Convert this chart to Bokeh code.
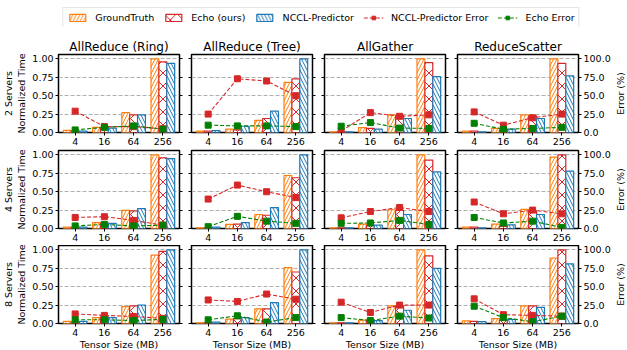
import math
from bokeh.plotting import figure
from bokeh.models import (Range1d, FactorRange, LinearAxis, FixedTicker, ColumnDataSource,
                          Legend, LegendItem, PrintfTickFormatter)
from bokeh.core.properties import value
from bokeh.layouts import gridplot, column
from bokeh.transform import dodge
from bokeh.embed import file_html
from bokeh.resources import INLINE

# ---------------- data ----------------
ops = ["AllReduce (Ring)", "AllReduce (Tree)", "AllGather", "ReduceScatter"]
servers = ["2 Servers", "4 Servers", "8 Servers"]
sizes = ["4", "16", "64", "256"]
time_ticks = [0.0, 0.25, 0.5, 0.75, 1.0]
err_ticks = [0, 25, 50, 75, 100]
err_label = "Error (%)"
x_label = "Tensor Size (MB)"

# 2 servers: one list per op (Ring, Tree, AllGather, ReduceScatter)
gt_2 = [[0.03, 0.07, 0.27, 1.00], [0.02, 0.045, 0.165, 0.68], [0.01, 0.065, 0.24, 1.00], [0.02, 0.055, 0.24, 1.00]]
echo_2 = [[0.02, 0.06, 0.24, 0.96], [0.02, 0.035, 0.19, 0.73], [0.01, 0.055, 0.23, 0.95], [0.02, 0.03, 0.225, 0.94]]
nccl_2 = [[0.02, 0.06, 0.24, 0.94], [0.025, 0.085, 0.29, 1.00], [0.01, 0.045, 0.19, 0.76], [0.01, 0.045, 0.19, 0.77]]
nccl_err_2 = [[29, 8, 8, 5], [25, 73, 70, 50], [2, 27, 22, 24], [28, 10, 20, 25]]
echo_err_2 = [[3.5, 7, 9, 4.5], [10, 9, 9, 8], [8.5, 13.5, 6, 5.5], [12.5, 4.5, 5.5, 7]]

# 4 servers
gt_4 = [[0.02, 0.08, 0.245, 1.00], [0.01, 0.055, 0.19, 0.72], [0.01, 0.06, 0.255, 1.00], [0.02, 0.06, 0.26, 0.97]]
echo_4 = [[0.015, 0.075, 0.24, 0.96], [0.01, 0.06, 0.18, 0.69], [0.01, 0.04, 0.245, 0.93], [0.02, 0.03, 0.24, 1.00]]
nccl_4 = [[0.02, 0.07, 0.27, 0.95], [0.02, 0.08, 0.285, 1.00], [0.01, 0.045, 0.19, 0.77], [0.01, 0.05, 0.19, 0.78]]
nccl_err_4 = [[15, 16, 11, 4.5], [40, 59, 50, 42], [14.5, 23, 28.5, 23], [36, 20, 25, 20]]
echo_err_4 = [[3.5, 5.5, 3.5, 4.5], [2.5, 16.5, 10, 7], [7, 7.5, 11, 5.5], [15, 7.5, 10, 1.5]]

# 8 servers
gt_8 = [[0.03, 0.08, 0.23, 0.93], [0.01, 0.06, 0.20, 0.76], [0.01, 0.045, 0.24, 1.00], [0.035, 0.065, 0.24, 0.89]]
echo_8 = [[0.02, 0.09, 0.24, 0.98], [0.01, 0.065, 0.20, 0.70], [0.01, 0.045, 0.24, 0.92], [0.03, 0.045, 0.24, 1.00]]
nccl_8 = [[0.03, 0.08, 0.25, 1.00], [0.02, 0.08, 0.285, 1.00], [0.01, 0.04, 0.18, 0.75], [0.025, 0.055, 0.22, 0.81]]
nccl_err_8 = [[13, 11, 9.5, 7], [32, 30, 40, 33], [29, 15, 25, 25], [33.5, 12, 11, 10]]
echo_err_8 = [[5, 5, 4, 5.5], [5, 10.5, 2, 8], [8, 4, 10, 7.5], [23.5, 8, 2.5, 10]]

rows = [
    (gt_2, echo_2, nccl_2, nccl_err_2, echo_err_2),
    (gt_4, echo_4, nccl_4, nccl_err_4, echo_err_4),
    (gt_8, echo_8, nccl_8, nccl_err_8, echo_err_8),
]

# ---------------- style ----------------
FONT = "DejaVu Sans"
FS = "9.5px"
ORANGE = "#ff7f0e"
RED = "#d62728"
BLUE = "#1f77b4"
GREEN = "#008000"
BW = 0.27
FW, FH = 121, 78
TOPS = [27, 1, 0]
BOTS = [17, 17, 27]

bar_styles = [
    ("GroundTruth", ORANGE, "/", -BW, 7),
    ("Echo (ours)", RED, "x", 0.0, 13),
    ("NCCL-Predictor", BLUE, "\\", BW, 7),
]


def style_axis(ax, ticks, show_labels):
    ax.axis_line_color = None
    ax.major_tick_out = 3
    ax.major_tick_in = 0
    ax.minor_tick_line_color = None
    ax.major_tick_line_color = "black"
    ax.major_tick_line_width = 1
    ax.major_label_text_font = FONT
    ax.major_label_text_color = "black"
    ax.major_label_text_font_size = FS
    ax.axis_label_text_font = FONT
    ax.axis_label_text_font_size = FS
    ax.axis_label_text_font_style = "normal"
    ax.axis_label_text_color = "black"
    if show_labels:
        ax.major_label_standoff = 2
    else:
        ax.major_label_standoff = 0
        ax.major_label_overrides = {t: "" for t in ticks}


grid_rows = []
for r in range(3):
    gt, ec, nc, nerr, eerr = rows[r]
    fig_row = []
    for c in range(4):
        p = figure(
            x_range=FactorRange(factors=sizes, range_padding=0.07, range_padding_units="absolute"),
            y_range=Range1d(0, 1.06),
            frame_width=FW, frame_height=FH,
            output_backend="svg", toolbar_location=None,
            title=ops[c] if r == 0 else None,
            min_border_left=56 if c == 0 else 6,
            min_border_right=36 if c == 3 else 6,
            min_border_top=TOPS[r],
            min_border_bottom=BOTS[r],
        )
        p.extra_y_ranges = {"err": Range1d(0, 106)}
        p.outline_line_color = "black"
        p.outline_line_width = 1.5
        p.background_fill_color = "white"
        p.border_fill_color = "white"
        if r == 0:
            p.title.text_font = FONT
            p.title.text_font_size = "12px"
            p.title.text_font_style = "normal"
            p.title.text_color = "black"
            p.title.align = "center"
            p.title.standoff = 2

        p.xgrid.visible = False
        p.ygrid.ticker = FixedTicker(ticks=time_ticks)
        p.ygrid.grid_line_color = "#b0b0b0"
        p.ygrid.grid_line_dash = "4 2"
        p.ygrid.grid_line_width = 1

        src = ColumnDataSource(dict(size=sizes, gt=gt[c], echo=ec[c], nccl=nc[c],
                                    nerr=nerr[c], eerr=eerr[c]))
        for (label, col, hatch, off, hs), key in zip(bar_styles, ["gt", "echo", "nccl"]):
            p.vbar(x=dodge("size", off, range=p.x_range), top=key, width=BW, source=src,
                   fill_color="white", line_color=col, line_width=1.2,
                   hatch_pattern=hatch, hatch_color=col, hatch_scale=hs, hatch_weight=1)

        p.line(x="size", y="nerr", source=src, y_range_name="err", line_color=RED,
               line_dash="4 2", line_width=1.1)
        p.scatter(x="size", y="nerr", source=src, y_range_name="err", marker="square",
                  size=6, fill_color=RED, line_color=RED)
        p.line(x="size", y="eerr", source=src, y_range_name="err", line_color=GREEN,
               line_dash="4 2", line_width=1.1)
        p.scatter(x="size", y="eerr", source=src, y_range_name="err", marker="square",
                  size=6, fill_color=GREEN, line_color=GREEN)

        # x axis
        style_axis(p.xaxis[0], sizes, True)
        if r == 2:
            p.xaxis[0].axis_label = x_label
            p.xaxis[0].axis_label_standoff = 0

        # left axis
        yax = p.yaxis[0]
        yax.ticker = FixedTicker(ticks=time_ticks)
        yax.formatter = PrintfTickFormatter(format="%.2f")
        style_axis(yax, time_ticks, c == 0)
        if c == 0:
            yax.axis_label = servers[r] + "\nNormalized Time"
            yax.axis_label_standoff = 2

        # right axis
        rax = LinearAxis(y_range_name="err", ticker=FixedTicker(ticks=err_ticks),
                         formatter=PrintfTickFormatter(format="%.1f"))
        style_axis(rax, err_ticks, c == 3)
        p.add_layout(rax, "right")
        fig_row.append(p)

    # narrow strip holding the rotated "Error (%)" label of this row
    e = figure(frame_width=15, frame_height=FH, x_range=Range1d(0, 1), y_range=Range1d(0, 106),
               output_backend="svg", toolbar_location=None, title=None,
               x_axis_location=None, y_axis_location=None,
               min_border_left=0, min_border_right=0,
               min_border_top=TOPS[r], min_border_bottom=BOTS[r])
    e.outline_line_color = None
    e.grid.visible = False
    e.text(x=[0.4], y=[53], text=[err_label], angle=math.pi / 2, text_align="center",
           text_baseline="middle", text_font=value(FONT), text_font_size=FS,
           text_color="black")
    fig_row.append(e)
    grid_rows.append(fig_row)

grid = gridplot(grid_rows, toolbar_location=None)

# ---------------- legend strip ----------------
lf = figure(width=627, height=27, min_border=0, min_border_left=15,
            x_range=Range1d(0, 1), y_range=Range1d(0, 1),
            output_backend="svg", toolbar_location=None)
lf.outline_line_color = None
lf.axis.visible = False
lf.grid.visible = False
items = []
for label, col, hatch, off, hs in bar_styles:
    rr = lf.vbar(x=[5], top=[5], bottom=[4], width=0.1, fill_color="white", line_color=col,
                 line_width=1.2, hatch_pattern=hatch, hatch_color=col, hatch_scale=hs,
                 hatch_weight=1)
    items.append(LegendItem(label=label, renderers=[rr]))
for label, col in [("NCCL-Predictor Error", RED), ("Echo Error", GREEN)]:
    l1 = lf.line(x=[5, 6], y=[5, 6], line_color=col, line_dash="4 2", line_width=1.1)
    s1 = lf.scatter(x=[5], y=[5], marker="square", size=6, fill_color=col, line_color=col)
    items.append(LegendItem(label=label, renderers=[l1, s1]))

legend = Legend(items=items, orientation="horizontal", location="top_center")
legend.label_text_font = FONT
legend.label_text_font_size = FS
legend.label_text_color = "black"
legend.glyph_width = 20
legend.glyph_height = 9
legend.label_height = 10
legend.label_standoff = 8
legend.spacing = 9
legend.padding = 4
legend.margin = 7
legend.border_line_color = "#cccccc"
legend.border_line_width = 1
lf.add_layout(legend)

layout = column(lf, grid)
open("out.html", "w").write(file_html(layout, INLINE))
